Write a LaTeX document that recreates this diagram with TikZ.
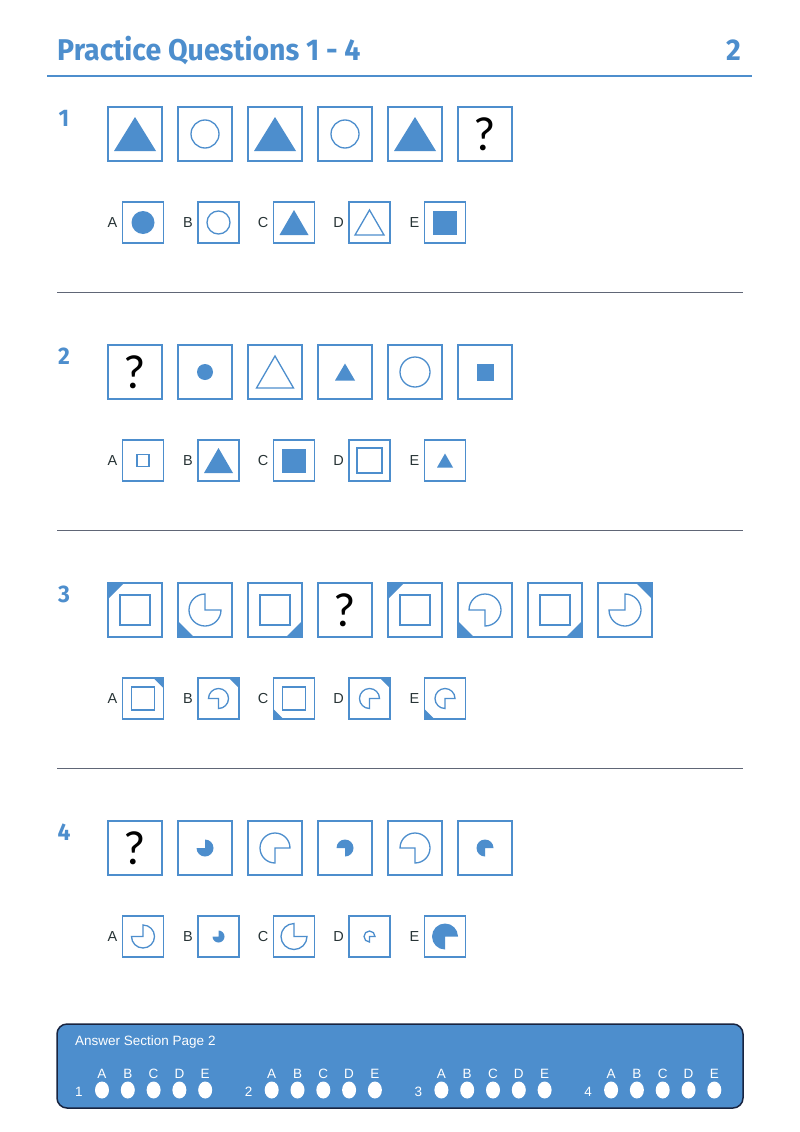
\documentclass[tikz,border=0pt]{standalone}
\usepackage{fontspec}
\setmainfont{Liberation Sans}
\newfontfamily\headfont[FakeStretch=0.95]{Fira Sans}
\newfontfamily\qmarkfont{Carlito}
\usetikzlibrary{positioning,shapes.geometric}

\definecolor{qblue}{RGB}{77,142,205}
\definecolor{rulegrey}{RGB}{96,102,118}
\definecolor{navy}{RGB}{24,36,64}
\definecolor{labgrey}{RGB}{40,52,54}

\tikzset{
  qbox/.style={draw=qblue, line width=1.4, minimum size=54, inner sep=0, outer sep=0},
  obox/.style={draw=qblue, line width=1.4, minimum size=41, inner sep=0, outer sep=0},
  shp/.style={draw=qblue, line width=1.3},
  head/.style={text=qblue, inner sep=0, font=\headfont\bfseries\fontsize{30}{30}\selectfont},
  qnum/.style={text=qblue, inner sep=0, font=\headfont\bfseries\fontsize{24}{24}\selectfont},
  qmark/.style={inner sep=0, font=\qmarkfont\fontsize{48}{48}\selectfont},
  optlab/.style={text=labgrey, inner sep=0, font=\fontsize{14.5}{14.5}\selectfont},
  anstext/.style={text=white, inner sep=0, font=\fontsize{13.5}{13.5}\selectfont},
  bubble/.style={ellipse, fill=white, minimum width=14, minimum height=17, inner sep=0},
  % shapes inside the boxes
  pics/ftri/.style args={#1/#2}{code={\fill[qblue] (-#1/2,#2/2) -- (#1/2,#2/2) -- (0,-#2/2) -- cycle;}},
  pics/otri/.style args={#1/#2}{code={\draw[shp] (-#1/2,#2/2) -- (#1/2,#2/2) -- (0,-#2/2) -- cycle;}},
  pics/fcirc/.style={code={\fill[qblue] (0,0) circle[radius=#1];}},
  pics/ocirc/.style={code={\draw[shp] (0,0) circle[radius=#1];}},
  pics/fsq/.style={code={\fill[qblue] (-#1/2,-#1/2) rectangle (#1/2,#1/2);}},
  pics/osq/.style={code={\draw[shp] (-#1/2,-#1/2) rectangle (#1/2,#1/2);}},
  % pie: #1 = start of the missing quarter (0 br, 90 bl, 180 tl, 270 tr)
  pics/fpie/.style args={#1/#2}{code={\fill[qblue] (0,0) -- (#1+90:#2)
      arc[start angle=#1+90, delta angle=270, radius=#2] -- cycle;}},
  pics/opie/.style args={#1/#2}{code={\draw[shp] (0,0) -- (#1+90:#2)
      arc[start angle=#1+90, delta angle=270, radius=#2] -- cycle;}},
  pics/corner/.style args={#1/#2/#3}{code={\fill[qblue] (0,0) -- (#1*#3,0) -- (0,#2*#3) -- cycle;}}
}

\begin{document}
\begin{tikzpicture}[x=1pt,y=-1pt]
\useasboundingbox (0,0) rectangle (800,1132);
\fill[white] (0,0) rectangle (800,1132);

% header
\node[head, anchor=base west] (title) at (57,60) {Practice Questions 1 - 4};
\node[head, anchor=base east] (page) at (741,60) {2};
\draw[qblue, line width=2] (47,76) -- (752,76);

\foreach \y in {292,530,768}
  \draw[rulegrey, line width=1] (57,\y) -- (743,\y);

\foreach \q in {1,...,4}
  \node[qnum] (num\q) at ({64},{118.5+238*(\q-1)}) {\q};

% question rows
\foreach \n [count=\i from 0] in {a,b,c,d,e,f}
  \node[qbox] (q1\n) at ({135+70*\i},134) {};
\foreach \n [count=\i from 0] in {a,b,c,d,e,f}
  \node[qbox] (q2\n) at ({135+70*\i},372) {};
\foreach \n [count=\i from 0] in {a,b,c,d,e,f,g,h}
  \node[qbox] (q3\n) at ({135+70*\i},610) {};
\foreach \n [count=\i from 0] in {a,b,c,d,e,f}
  \node[qbox] (q4\n) at ({135+70*\i},848) {};

% answer options
\foreach \q/\y in {1/222.5,2/460.5,3/698.5,4/936.5}
  \foreach \l [count=\i from 0] in {A,B,C,D,E} {
    \node[obox] (o\q\l) at ({143+75.5*\i},\y) {};
    \node[optlab, left=5pt of o\q\l] (l\q\l) {\l};
  }

% question 1
\pic at (q1a) {ftri=42/34};
\pic at (q1b) {ocirc=14};
\pic at (q1c) {ftri=42/34};
\pic at (q1d) {ocirc=14};
\pic at (q1e) {ftri=42/34};
\node[qmark] (m1) at (q1f) {?};
\pic at (o1A) {fcirc=11.5};
\pic at (o1B) {ocirc=11.5};
\pic at (o1C) {ftri=29/25};
\pic at (o1D) {otri=29/25};
\pic at (o1E) {fsq=24};

% question 2
\node[qmark] (m2) at (q2a) {?};
\pic at (q2b) {fcirc=8};
\pic at (q2c) {otri=37/32};
\pic at (q2d) {ftri=20/17};
\pic at (q2e) {ocirc=15};
\pic at (q2f) {fsq=17};
\pic at (o2A) {osq=12};
\pic at (o2B) {ftri=29/25};
\pic at (o2C) {fsq=24};
\pic at (o2D) {osq=25};
\pic at (o2E) {ftri=16/14};

% question 3
\pic at (q3a) {osq=30};
\pic at (q3a.north west) {corner=1/1/16};
\pic at (q3b) {opie=270/16};
\pic at (q3b.south west) {corner=1/-1/16};
\pic at (q3c) {osq=30};
\pic at (q3c.south east) {corner=-1/-1/16};
\node[qmark] (m3) at (q3d) {?};
\pic at (q3e) {osq=30};
\pic at (q3e.north west) {corner=1/1/16};
\pic at (q3f) {opie=90/16};
\pic at (q3f.south west) {corner=1/-1/16};
\pic at (q3g) {osq=30};
\pic at (q3g.south east) {corner=-1/-1/16};
\pic at (q3h) {opie=180/16};
\pic at (q3h.north east) {corner=-1/1/16};
\pic at (o3A) {osq=23};
\pic at (o3A.north east) {corner=-1/1/10};
\pic at (o3B) {opie=90/10};
\pic at (o3B.north east) {corner=-1/1/10};
\pic at (o3C) {osq=23};
\pic at (o3C.south west) {corner=1/-1/10};
\pic at (o3D) {opie=0/10};
\pic at (o3D.north east) {corner=-1/1/10};
\pic at (o3E) {opie=0/10};
\pic at (o3E.south west) {corner=1/-1/10};

% question 4
\node[qmark] (m4) at (q4a) {?};
\pic at (q4b) {fpie=180/8.5};
\pic at (q4c) {opie=0/15};
\pic at (q4d) {fpie=90/8.5};
\pic at (q4e) {opie=90/15};
\pic at (q4f) {fpie=0/8.5};
\pic at (o4A) {opie=180/11.5};
\pic at (o4B) {fpie=180/6};
\pic at (o4C) {opie=270/13};
\pic at (o4D) {opie=0/5.5};
\pic at (o4E) {fpie=0/13};

% answer section
\draw[fill=qblue, draw=navy, line width=1.5, rounded corners=10] (57,1024) rectangle (743,1108);
\node[anstext, anchor=base west] (anshead) at (75,1045) {Answer Section Page 2};
\foreach \g in {1,...,4} {
  \node[anstext, anchor=base] (n\g) at ({79+169.7*(\g-1)},1096) {\g};
  \foreach \l [count=\k from 0] in {A,B,C,D,E} {
    \node[bubble] (b\g\l) at ({102+169.7*(\g-1)+25.8*\k},1090) {};
    \node[anstext, anchor=base] (a\g\l) at ({102+169.7*(\g-1)+25.8*\k},1078) {\l};
  }
}
\end{tikzpicture}
\end{document}
